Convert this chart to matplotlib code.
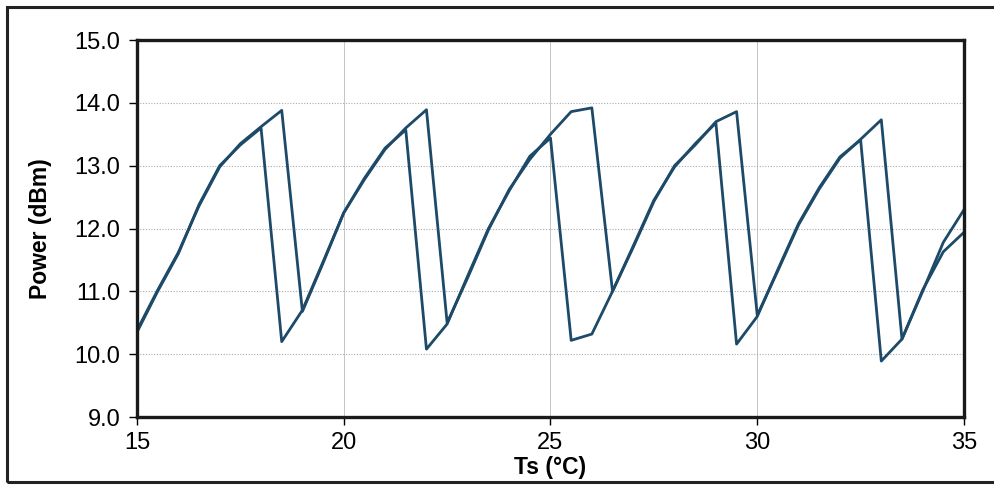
import matplotlib.pyplot as plt
from matplotlib.patches import Rectangle

plt.rcParams['font.family'] = ['Liberation Sans', 'DejaVu Sans']

# temperature steps (deg C)
ts = [15, 15.5, 16, 16.5, 17, 17.5, 18, 18.5, 19, 19.5, 20, 20.5, 21, 21.5,
      22, 22.5, 23, 23.5, 24, 24.5, 25, 25.5, 26, 26.5, 27, 27.5, 28, 28.5,
      29, 29.5, 30, 30.5, 31, 31.5, 32, 32.5, 33, 33.5, 34, 34.5, 35]

# power, sweep 1 (drops earlier)
power_a = [10.35, 11.0, 11.6, 12.38, 13.0, 13.33, 13.6, 10.2, 10.7, 11.47,
           12.25, 12.8, 13.28, 13.57, 10.08, 10.48, 11.25, 12.0, 12.6, 13.15,
           13.44, 10.22, 10.32, 11.0, 11.72, 12.45, 12.98, 13.35, 13.68, 10.16,
           10.6, 11.35, 12.08, 12.65, 13.14, 13.41, 9.89, 10.24, 11.0, 11.78,
           12.3]

# power, sweep 2 (drops later)
power_b = [10.38, 11.02, 11.62, 12.36, 12.98, 13.35, 13.62, 13.88, 10.68, 11.45,
           12.25, 12.78, 13.26, 13.6, 13.89, 10.5, 11.22, 11.98, 12.62, 13.1,
           13.5, 13.86, 13.92, 11.0, 11.7, 12.43, 13.0, 13.33, 13.7, 13.86,
           10.62, 11.33, 12.06, 12.63, 13.12, 13.42, 13.73, 10.24, 11.02, 11.63,
           11.94]

fig = plt.figure(figsize=(9.95, 4.86), dpi=100)
ax = fig.add_axes([137 / 995, 1 - 417 / 486, 827 / 995, 377 / 486])

# scanned outer frame
fig.patches.append(Rectangle((7 / 995, 1 - 482 / 486), 1.0, 475 / 486,
                             transform=fig.transFigure, fill=False,
                             edgecolor='#222222', linewidth=2.2))

color = '#1d4a68'
ax.plot(ts, power_a, color=color, linewidth=2.0)
ax.plot(ts, power_b, color=color, linewidth=2.0)

ax.set_xlim(15, 35)
ax.set_ylim(9, 15)
ax.set_xticks([15, 20, 25, 30, 35])
ax.set_yticks([9, 10, 11, 12, 13, 14, 15])
ax.set_yticklabels([f'{v:.1f}' for v in [9, 10, 11, 12, 13, 14, 15]])

ax.grid(axis='y', color='#aaaaaa', linestyle=(0, (1, 1.5)), linewidth=0.8)
ax.grid(axis='x', color='#bbbbbb', linestyle='-', linewidth=0.6)
ax.set_axisbelow(True)

for s in ax.spines.values():
    s.set_linewidth(2.4)
    s.set_color('#1a1a1a')

ax.tick_params(direction='out', length=6, width=1, labelsize=17, pad=6)
ax.tick_params(axis='x', pad=5)

ax.set_xlabel('Ts (°C)', fontsize=16.5, fontweight='bold', labelpad=1)
ax.set_ylabel('Power (dBm)', fontsize=16.5, fontweight='bold', labelpad=16)

fig.savefig('out.png', dpi=100)
